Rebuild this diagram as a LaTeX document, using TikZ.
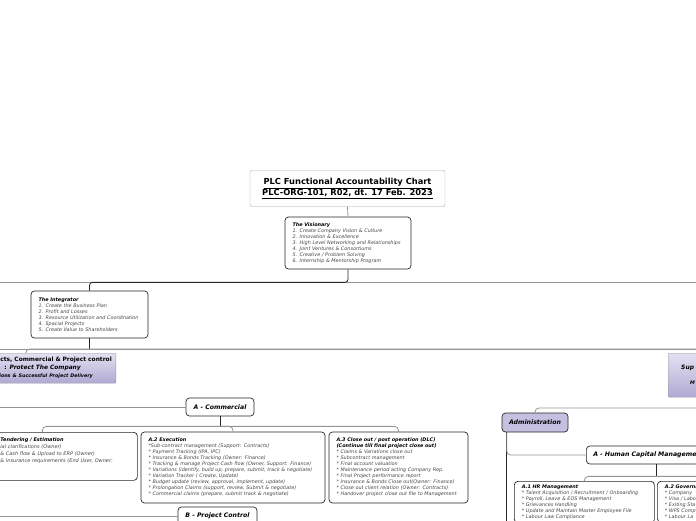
\documentclass[tikz,border=0pt]{standalone}
\usepackage{fontspec}
\setmainfont{DejaVu Sans}
\usetikzlibrary{calc,positioning}
\definecolor{lavtop}{RGB}{228,225,242}
\definecolor{lavbot}{RGB}{176,168,210}
\definecolor{admfill}{RGB}{197,191,224}
\newcommand\itemfont{\fontsize{4.9pt}{6pt}\selectfont}
\newcommand\tagfont{\fontsize{6.2pt}{7pt}\selectfont}
\newcommand\titlefont{\fontsize{8.3pt}{10.5pt}\selectfont}
\newcommand\hd[1]{{\color{black}\bfseries #1}}

\begin{document}
\begin{tikzpicture}[x=1pt,y=-1pt,
    box/.style={draw=black!85,fill=white,rounded corners=3.5pt,line width=0.7pt,
      inner xsep=7.5pt,inner ysep=3.5pt,align=left,font=\itemfont\itshape,text=black!72},
    tag/.style={draw=black!85,fill=white,rounded corners=3.5pt,line width=0.7pt,
      minimum height=18pt,inner xsep=7pt,font=\tagfont\bfseries\itshape},
    purp/.style={draw=black!40,top color=lavtop,bottom color=lavbot,rounded corners=1pt},
    stem/.style={draw=black!85,line width=0.8pt},
    branch/.style={draw=black!42,line width=0.8pt,rounded corners=4pt}]
  \useasboundingbox (0,0) rectangle (696,520);

  \node[draw=black!35,rounded corners=2pt,minimum width=195pt,minimum height=36pt,
    align=center,font=\titlefont\bfseries] (title) at (347.5,188.5)
    {\underline{PLC Functional Accountability Chart}\\[0.5pt]\underline{PLC-ORG-101, R02, dt. 17 Feb. 2023}};
  \node[box,text width=111pt,minimum height=52pt] (vis) at (348,243)
    {\hd{The Visionary}\\1. Create Company Vision \& Culture\\2. Innovation \& Excellence\\
     3. High Level Networking and Relationships\\4. Joint Ventures \& Consortiums\\
     5. Creative / Problem Solving\\6. Internship \& Mentorship Program};
  \node[box,text width=102pt,minimum height=47pt] (integ) at (89.5,314.5)
    {\hd{The Integrator}\\1. Create the Business Plan\\2. Profit and Losses\\
     3. Resource Utilization and Coordination\\4. Spacial Projects\\5. Create Value to Shareholders};

  \node[purp,anchor=north east,text width=150pt,minimum height=30pt,inner xsep=4pt,
    align=right,font=\fontsize{5.9pt}{8pt}\selectfont] (lpur) at (116,353)
    {\bfseries cts, Commercial \& Project control\\
     \bfseries : \itshape Protect The Company\rule{31pt}{0pt}\\
     {\fontsize{4.8pt}{8pt}\selectfont\itshape ions \& Successful Project Delivery}\rule{19pt}{0pt}};
  \node[purp,anchor=north west,text width=90pt,minimum height=44pt,inner xsep=13pt,
    align=left,font=\fontsize{6pt}{6pt}\selectfont] (rpur) at (668,353)
    {\bfseries\itshape Sup\\[9pt]\hspace*{9pt}{\fontsize{4.8pt}{6pt}\selectfont\itshape M}};

  \node[tag,minimum width=68pt] (acom) at (220,407) {A - Commercial};
  \node[tag,minimum width=79pt] (bpc) at (217.5,516) {B - Project Control};
  \node[box,anchor=north west,text width=133pt,inner xsep=4pt,minimum height=48pt,
    font=\fontsize{5pt}{7pt}\selectfont\itshape] (aone) at (-4,432)
    {\hd{Tendering / Estimation}\\ial clarifications (Owner)\\
     \& Cash flow \& Upload to ERP (Owner)\\\& Insurance requirements (End User, Owner:\\[4pt]\strut};
  \node[box,text width=169pt,minimum height=71pt] (atwo) at (233,467.5)
    {\hd{A.2 Execution}\\{}*Sub-contract management (Support: Contracts)\\
     {}* Payment Tracking (IPA, IPC)\\{}* Insurance \& Bonds Tracking (Owner: Finance)\\
     {}* Tracking \& manage Project Cash flow (Owner, Support: Finance)\\
     {}* Variations (identify, build up, prepare, submit, track \& negotiate)\\
     {}* Variation Tracker ( Create, Update)\\{}* Budget update (review, approval, implement, update)\\
     {}* Prolongation Claims (support, review, Submit \& negotiate)\\
     {}* Commercial claims (prepare, submit track \& negotiate)};
  \node[box,text width=124pt,minimum height=71pt] (athree) at (398.5,467.5)
    {\hd{A.3 Close out / post operation (DLC)}\\\hd{(Continue till final project close out)}\\
     {}* Claims \& Variations close out\\{}* Subcontract management\\{}* Final account valuation\\
     {}* Maintenance period acting Company Rep.\\{}* Final Project performance report\\
     {}* Insurance \& Bonds Close out(Owner: Finance)\\{}* Close out client relation (Owner: Contracts)\\
     {}* Handover project close out file to Management};

  \node[tag,fill=admfill,minimum width=66pt,minimum height=19pt] (admin) at (535,422.5) {Administration};
  \node[tag,anchor=west,text width=126pt,align=left] (hcm) at (586,455) {A - Human Capital Management};
  \node[box,anchor=north west,text width=125pt] (hr) at (514,481)
    {\hd{A.1 HR Management}\\{}* Talent Acquisition / Recruitment / Onboarding\\
     {}* Payroll, Leave \& EOS Management\\{}* Grievances Handling\\
     {}* Update and Maintain Master Employee File\\{}* Labour Law Compliance};
  \node[box,anchor=north west,text width=125pt] (gov) at (657,481)
    {\hd{A.2 Governa}\\{}* Company\\{}* Visa / Labo\\{}* Exiting Sta\\{}* WPS Comp\\{}* Labour La};

  \coordinate (visL) at (-5,282);
  \coordinate (visR) at (701,282);
  \coordinate (intL) at (-5,349);
  \coordinate (intR) at (701,349);
  \coordinate (spA) at (-5,407);
  \coordinate (spB) at (-5,516);
  \coordinate (admR) at (701,408);

  \draw[branch] (title.south)--(vis.north);
  \draw[branch] (visL)--(visR);
  \draw[stem,rounded corners=3pt] (vis.south)--++(0,13)-|(integ.north);
  \draw[branch] (intL)--(intR);
  \draw[stem] (integ.south)--(integ.south |- intL);
  \draw[branch] (integ.south |- intL)-|([xshift=-11pt]lpur.north);
  \draw[branch] (integ.south |- intL)-|(rpur.north);
  \draw[branch] (spA)--(acom.west);
  \draw[branch] (spB)--(bpc.west);
  \draw[stem] (acom.south)--++(0,10) coordinate (acomj);
  \draw[branch] (acomj)-|([xshift=-24.5pt]aone.north);
  \draw[branch] (acomj)-|(atwo.north);
  \draw[branch] (acomj)-|(athree.north);
  \draw[branch] (admR)-|(admin.north);
  \draw[stem] ([xshift=5pt]admin.south west)--++(0,95);
  \draw[branch] ([xshift=5pt]admin.south west)|-(hcm.west);
  \draw[stem] (hcm.south)--++(0,12) coordinate (hcmj);
  \draw[branch] (hcmj)-|(hr.north);
  \draw[branch] (hcmj)-|(gov.north);
\end{tikzpicture}
\end{document}
